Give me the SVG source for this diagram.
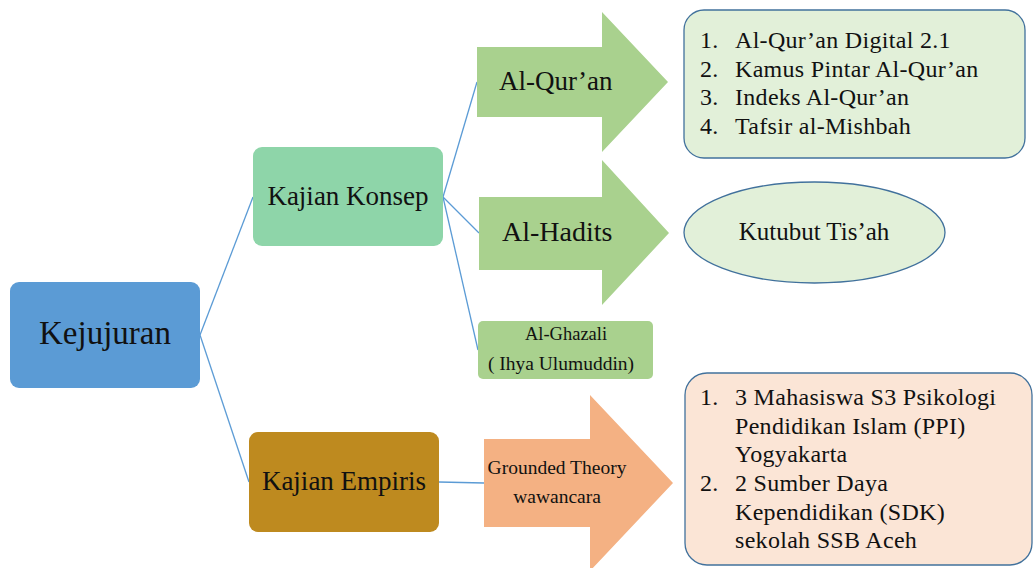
<svg xmlns="http://www.w3.org/2000/svg" width="1034" height="568" viewBox="0 0 1034 568" font-family="'Liberation Serif','Times New Roman',serif">
<style>
text{font-family:"Liberation Serif","Times New Roman",serif;fill:#111}
.conn line{stroke:#5B9BD5;stroke-width:1.3}
.garrow{fill:#A9D18E}
.callout{stroke:#41719C;stroke-width:1.3}
.list{font-size:24px;letter-spacing:0.3px}
</style>
<rect width="1034" height="568" fill="#fff"/>
<g id="connectors" class="conn">
<line x1="200" y1="335" x2="253" y2="197"/>
<line x1="200" y1="335" x2="249" y2="482"/>
<line x1="443" y1="197" x2="477" y2="82"/>
<line x1="443" y1="197" x2="479" y2="233"/>
<line x1="443" y1="197" x2="478" y2="350"/>
<line x1="439" y1="482" x2="484" y2="483"/>
</g>
<g id="kejujuran">
<rect x="10" y="282" width="190" height="106" rx="9" fill="#5B9BD5"/>
<text x="105" y="344" font-size="33" text-anchor="middle">Kejujuran</text>
</g>
<g id="kajian-konsep">
<rect x="253" y="147" width="190" height="99" rx="9" fill="#8ED5A9"/>
<text x="348" y="205" font-size="27" text-anchor="middle">Kajian Konsep</text>
</g>
<g id="kajian-empiris">
<rect x="249" y="432" width="190" height="100" rx="9" fill="#BE8A1F"/>
<text x="344" y="490" font-size="27" text-anchor="middle">Kajian Empiris</text>
</g>
<g id="al-quran">
<polygon class="garrow" points="477,47 602,47 602,12 668,82 602,152 602,117 477,117"/>
<text x="499" y="90" font-size="27">Al-Qur’an</text>
</g>
<g id="al-hadits">
<polygon class="garrow" points="479,197 602,197 602,160 669,233 602,305 602,270 479,270"/>
<text x="502" y="241" font-size="28">Al-Hadits</text>
</g>
<g id="al-ghazali">
<rect x="478" y="321" width="175" height="58" rx="5" fill="#A9D18E"/>
<text x="566" y="340" font-size="18.5" text-anchor="middle">Al-Ghazali</text>
<text x="561" y="370" font-size="19.5" text-anchor="middle">( Ihya Ulumuddin)</text>
</g>
<g id="grounded-theory">
<polygon points="484,439 590,439 590,395 673,483 590,571 590,527 484,527" fill="#F4B183"/>
<text x="557" y="474" font-size="19.5" text-anchor="middle">Grounded Theory</text>
<text x="557" y="503" font-size="19.5" text-anchor="middle">wawancara</text>
</g>
<g id="quran-list">
<rect class="callout" x="684" y="10" width="341" height="148" rx="20" fill="#E2F0D9"/>
<text class="list">
<tspan x="700" y="48">1.</tspan><tspan x="735" y="48">Al-Qur’an Digital 2.1</tspan>
<tspan x="700" y="77">2.</tspan><tspan x="735" y="77">Kamus Pintar Al-Qur’an</tspan>
<tspan x="700" y="105">3.</tspan><tspan x="735" y="105">Indeks Al-Qur’an</tspan>
<tspan x="700" y="134">4.</tspan><tspan x="735" y="134">Tafsir al-Mishbah</tspan>
</text>
</g>
<g id="kutubut">
<ellipse class="callout" cx="814.5" cy="232.5" rx="130.5" ry="50.5" fill="#E2F0D9"/>
<text x="814" y="240" font-size="25" text-anchor="middle">Kutubut Tis’ah</text>
</g>
<g id="empiris-list">
<rect class="callout" x="685" y="373" width="347" height="192" rx="22" fill="#FBE5D6"/>
<text class="list">
<tspan x="700" y="405">1.</tspan><tspan x="735" y="405">3 Mahasiswa S3 Psikologi</tspan>
<tspan x="735" y="434">Pendidikan Islam (PPI)</tspan>
<tspan x="735" y="462">Yogyakarta</tspan>
<tspan x="700" y="491">2.</tspan><tspan x="735" y="491">2 Sumber Daya</tspan>
<tspan x="735" y="520">Kependidikan (SDK)</tspan>
<tspan x="735" y="548">sekolah SSB Aceh</tspan>
</text>
</g>
</svg>
